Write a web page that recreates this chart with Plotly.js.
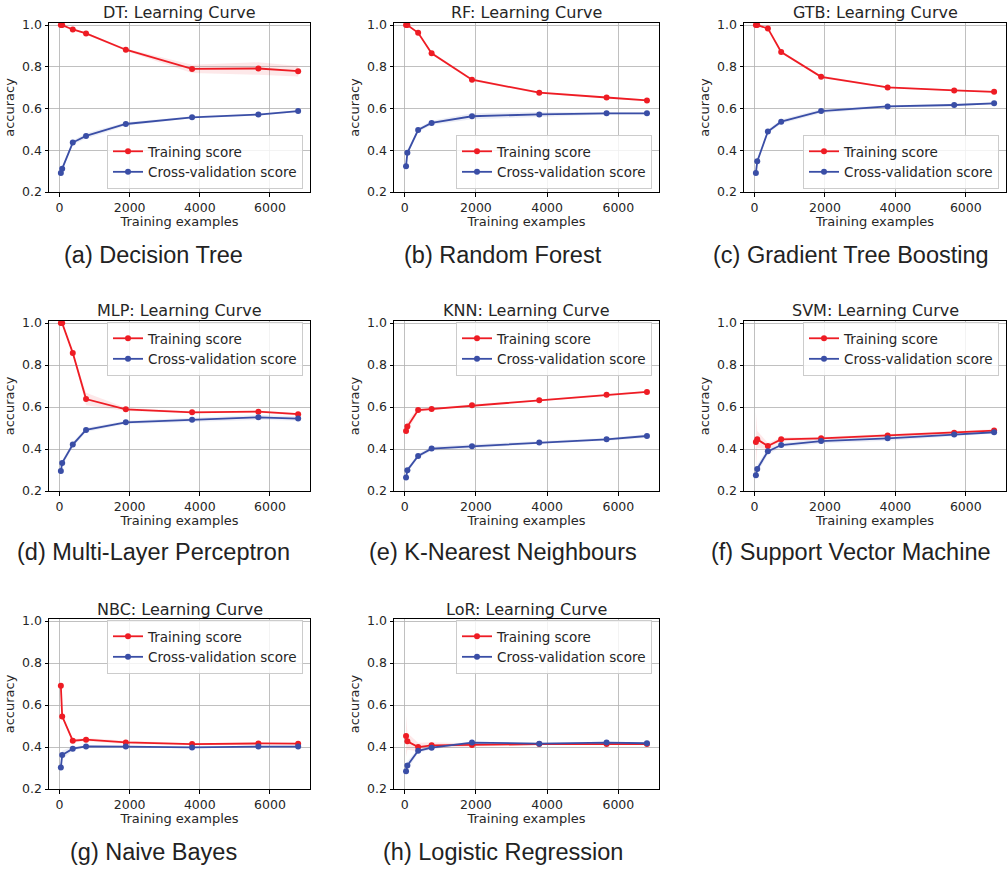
<!DOCTYPE html>
<html>
<head>
<meta charset="utf-8">
<script src="https://cdn.plot.ly/plotly-3.0.1.min.js"></script>
<style>
html,body{margin:0;padding:0;background:#fff;}
#chart{width:1007px;height:869px;}
</style>
</head>
<body>
<div id="chart"></div>
<script>
// Training set sizes (x values)
const trainSizes = [38, 76, 378, 756, 1890, 3780, 5670, 6804];

// Model short names and captions
const modelNames = ['DT', 'RF', 'GTB', 'MLP', 'KNN', 'SVM', 'NBC', 'LoR'];
const captions = ['(a) Decision Tree', '(b) Random Forest', '(c) Gradient Tree Boosting',
  '(d) Multi-Layer Perceptron', '(e) K-Nearest Neighbours', '(f) Support Vector Machine',
  '(g) Naive Bayes', '(h) Logistic Regression'];

// Mean training scores
const dtTrain  = [1.000, 1.000, 0.979, 0.960, 0.882, 0.790, 0.792, 0.779];
const rfTrain  = [1.000, 1.000, 0.963, 0.865, 0.738, 0.676, 0.653, 0.639];
const gtbTrain = [1.000, 1.000, 0.984, 0.871, 0.752, 0.701, 0.687, 0.680];
const mlpTrain = [1.000, 1.000, 0.858, 0.638, 0.589, 0.575, 0.578, 0.566];
const knnTrain = [0.486, 0.507, 0.586, 0.591, 0.609, 0.632, 0.659, 0.672];
const svmTrain = [0.434, 0.446, 0.414, 0.446, 0.451, 0.464, 0.478, 0.488];
const nbcTrain = [0.692, 0.546, 0.430, 0.435, 0.422, 0.414, 0.417, 0.416];
const lorTrain = [0.453, 0.427, 0.400, 0.408, 0.410, 0.414, 0.414, 0.414];

// Std of training scores
const dtTrainStd  = [0.000, 0.000, 0.003, 0.005, 0.006, 0.020, 0.030, 0.025];
const rfTrainStd  = [0.000, 0.000, 0.004, 0.006, 0.006, 0.005, 0.004, 0.004];
const gtbTrainStd = [0.000, 0.000, 0.004, 0.006, 0.006, 0.004, 0.004, 0.004];
const mlpTrainStd = [0.000, 0.000, 0.005, 0.030, 0.008, 0.005, 0.005, 0.006];
const knnTrainStd = [0.030, 0.025, 0.010, 0.005, 0.004, 0.004, 0.004, 0.004];
const svmTrainStd = [0.140, 0.040, 0.015, 0.010, 0.006, 0.006, 0.008, 0.006];
const nbcTrainStd = [0.005, 0.008, 0.008, 0.008, 0.008, 0.004, 0.003, 0.003];
const lorTrainStd = [0.100, 0.040, 0.020, 0.015, 0.008, 0.004, 0.004, 0.004];

// Mean cross-validation scores
const dtCv  = [0.291, 0.312, 0.437, 0.469, 0.526, 0.558, 0.571, 0.588];
const rfCv  = [0.324, 0.388, 0.497, 0.531, 0.563, 0.572, 0.577, 0.577];
const gtbCv = [0.291, 0.347, 0.490, 0.537, 0.588, 0.610, 0.617, 0.625];
const mlpCv = [0.295, 0.334, 0.421, 0.491, 0.527, 0.540, 0.551, 0.545];
const knnCv = [0.264, 0.299, 0.367, 0.402, 0.413, 0.431, 0.446, 0.462];
const svmCv = [0.275, 0.305, 0.389, 0.419, 0.438, 0.451, 0.469, 0.480];
const nbcCv = [0.302, 0.362, 0.392, 0.403, 0.402, 0.398, 0.402, 0.402];
const lorCv = [0.285, 0.312, 0.382, 0.397, 0.421, 0.416, 0.421, 0.418];

// Std of cross-validation scores
const dtCvStd  = [0.006, 0.010, 0.010, 0.012, 0.008, 0.005, 0.005, 0.004];
const rfCvStd  = [0.006, 0.008, 0.010, 0.010, 0.014, 0.012, 0.006, 0.004];
const gtbCvStd = [0.006, 0.010, 0.010, 0.010, 0.010, 0.006, 0.005, 0.005];
const mlpCvStd = [0.005, 0.012, 0.012, 0.010, 0.008, 0.010, 0.012, 0.010];
const knnCvStd = [0.006, 0.010, 0.010, 0.010, 0.010, 0.006, 0.006, 0.008];
const svmCvStd = [0.010, 0.020, 0.015, 0.010, 0.012, 0.012, 0.008, 0.006];
const nbcCvStd = [0.020, 0.020, 0.010, 0.005, 0.004, 0.004, 0.004, 0.004];
const lorCvStd = [0.020, 0.020, 0.010, 0.008, 0.005, 0.004, 0.004, 0.004];

const trainMeans = [dtTrain, rfTrain, gtbTrain, mlpTrain, knnTrain, svmTrain, nbcTrain, lorTrain];
const trainStds = [dtTrainStd, rfTrainStd, gtbTrainStd, mlpTrainStd, knnTrainStd, svmTrainStd, nbcTrainStd, lorTrainStd];
const cvMeans = [dtCv, rfCv, gtbCv, mlpCv, knnCv, svmCv, nbcCv, lorCv];
const cvStds = [dtCvStd, rfCvStd, gtbCvStd, mlpCvStd, knnCvStd, svmCvStd, nbcCvStd, lorCvStd];

// ---------- layout geometry (pixels) ----------
const W = 1007, H = 869;
const colPx = [[49, 310], [394, 659], [744, 1006]];
const rowPx = [[23, 192], [321, 491], [619, 789]];
const captionX = [153.5, 502.5, 851];
const captionY = [255, 552, 852];
const titleY = [12, 310, 609];
const legendLower = [true, true, true, false, false, false, false, false];

const RED = '#ee1c24';
const BLUE = '#3a4ea6';
const RED_FILL = 'rgba(238,28,36,0.1)';
const BLUE_FILL = 'rgba(58,78,166,0.1)';
const TXT = '#262626';
const FONT = 'DejaVu Sans';

const px2x = p => p / W;
const px2y = p => 1 - p / H;

const data = [];
const layout = {
  width: W, height: H,
  margin: {l: 0, r: 0, t: 0, b: 0},
  paper_bgcolor: '#ffffff',
  plot_bgcolor: '#ffffff',
  font: {family: FONT, color: TXT},
  annotations: [],
  showlegend: true
};

for (let i = 0; i < 8; i++) {
  const r = Math.floor(i / 3), c = i % 3;
  const n = i === 0 ? '' : String(i + 1);
  const xa = 'x' + n, ya = 'y' + n;
  const lg = 'legend' + n;

  const band = (mean, std) => {
    const up = mean.map((m, k) => m + std[k]);
    const lo = mean.map((m, k) => m - std[k]);
    return {x: trainSizes.concat(trainSizes.slice().reverse()), y: up.concat(lo.slice().reverse())};
  };
  const bt = band(trainMeans[i], trainStds[i]);
  const bc = band(cvMeans[i], cvStds[i]);

  data.push({x: bt.x, y: bt.y, xaxis: xa, yaxis: ya, type: 'scatter', mode: 'lines',
    fill: 'toself', fillcolor: RED_FILL, line: {width: 0, color: 'rgba(0,0,0,0)'},
    showlegend: false, hoverinfo: 'skip', legend: lg});
  data.push({x: bc.x, y: bc.y, xaxis: xa, yaxis: ya, type: 'scatter', mode: 'lines',
    fill: 'toself', fillcolor: BLUE_FILL, line: {width: 0, color: 'rgba(0,0,0,0)'},
    showlegend: false, hoverinfo: 'skip', legend: lg});
  data.push({x: trainSizes, y: trainMeans[i], xaxis: xa, yaxis: ya, type: 'scatter',
    mode: 'lines+markers', name: 'Training score', line: {color: RED, width: 1.8},
    marker: {color: RED, size: 6}, legend: lg});
  data.push({x: trainSizes, y: cvMeans[i], xaxis: xa, yaxis: ya, type: 'scatter',
    mode: 'lines+markers', name: 'Cross-validation score', line: {color: BLUE, width: 1.8},
    marker: {color: BLUE, size: 6}, legend: lg});

  const axCommon = {
    showgrid: true, gridcolor: '#b0b0b0', gridwidth: 0.8,
    showline: true, mirror: true, linecolor: '#000000', linewidth: 1,
    ticks: 'outside', ticklen: 3.5, tickwidth: 1, tickcolor: '#000000',
    tickfont: {family: FONT, size: 12.5, color: TXT},
    zeroline: false, fixedrange: true
  };
  layout['xaxis' + n] = Object.assign({}, axCommon, {
    domain: [px2x(colPx[c][0]), px2x(colPx[c][1])],
    anchor: ya, range: [-300, 7142], tickvals: [0, 2000, 4000, 6000],
    ticktext: ['0', '2000', '4000', '6000'],
    title: {text: 'Training examples', font: {family: FONT, size: 13, color: TXT}, standoff: 0}
  });
  layout['yaxis' + n] = Object.assign({}, axCommon, {
    domain: [px2y(rowPx[r][1]), px2y(rowPx[r][0])],
    anchor: xa, range: [0.2, 1.01], tickvals: [0.2, 0.4, 0.6, 0.8, 1.0],
    tickformat: '.1f',
    title: {text: 'accuracy', font: {family: FONT, size: 13, color: TXT}, standoff: 4}
  });

  const legRight = colPx[c][1] - 7;
  layout[lg] = {
    x: px2x(legRight), xanchor: 'right',
    y: legendLower[i] ? px2y(rowPx[r][1] - 3) : px2y(rowPx[r][0] + 1),
    yanchor: legendLower[i] ? 'bottom' : 'top',
    bgcolor: 'rgba(255,255,255,0.8)', bordercolor: '#cccccc', borderwidth: 1,
    font: {family: FONT, size: 13.5, color: TXT}, itemwidth: 30, tracegroupgap: 0
  };

  // subplot title
  layout.annotations.push({
    text: modelNames[i] + ': Learning Curve', xref: 'paper', yref: 'paper',
    x: px2x((colPx[c][0] + colPx[c][1]) / 2), y: px2y(titleY[r]),
    xanchor: 'center', yanchor: 'middle', showarrow: false,
    font: {family: FONT, size: 16, color: TXT}
  });
  // caption
  layout.annotations.push({
    text: captions[i], xref: 'paper', yref: 'paper',
    x: px2x(captionX[c]), y: px2y(captionY[r]),
    xanchor: 'center', yanchor: 'middle', showarrow: false,
    font: {family: 'Liberation Sans', size: 23.5, color: '#222222'}
  });
}

Plotly.newPlot('chart', data, layout, {staticPlot: true, displayModeBar: false});
</script>
</body>
</html>
